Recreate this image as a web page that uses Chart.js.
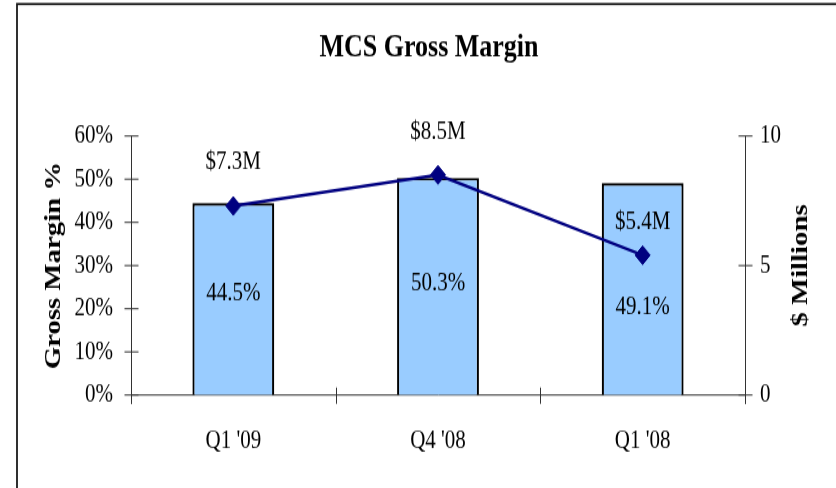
<!DOCTYPE html>
<html>
<head>
<meta charset="utf-8">
<script src="https://cdn.jsdelivr.net/npm/chart.js@4.4.0/dist/chart.umd.min.js"></script>
<style>
  html, body { margin: 0; padding: 0; background: #fff; overflow: hidden; }
</style>
</head>
<body>
<!-- the original slide is stretched vertically, so draw at 390 high and stretch to 488 -->
<canvas id="marginChart" width="836" height="390" style="display:block;width:836px;height:488px"></canvas>
<script>
const quarters = ["Q1 '09", "Q4 '08", "Q1 '08"];
const grossMarginPct = [44.5, 50.3, 49.1];
const revenueMillions = [7.3, 8.5, 5.4];
const pctTicks = [0, 10, 20, 30, 40, 50, 60];
const millionTicks = [0, 5, 10];

const serif = '"Liberation Serif", "Times New Roman", serif';

function line(ctx, x1, y1, x2, y2) {
    ctx.beginPath();
    ctx.moveTo(x1, y1);
    ctx.lineTo(x2, y2);
    ctx.stroke();
}

// border, title, axes with crossing ticks, axis titles and value labels
const decor = {
    id: 'decor',
    beforeDraw(chart) {
        const ctx = chart.ctx;
        ctx.save();
        ctx.strokeStyle = '#1a1a1a';
        ctx.lineWidth = 1.8;
        ctx.strokeRect(17, 3.2, 900, 500);
        ctx.fillStyle = '#000';
        ctx.font = 'bold 26px ' + serif;
        ctx.textAlign = 'center';
        ctx.textBaseline = 'middle';
        ctx.fillText('MCS Gross Margin', 429, 38);
        ctx.restore();
    },
    beforeDatasetsDraw(chart) {
        const { ctx, chartArea: a, scales: { x, y, y1 } } = chart;
        ctx.save();
        ctx.strokeStyle = '#333';
        ctx.lineWidth = 1;
        const l = Math.round(a.left) + 0.5;
        const r = Math.round(a.right) + 0.5;
        line(ctx, l, y.getPixelForValue(60), l, a.bottom + 7);
        pctTicks.forEach(v => {
            const py = y.getPixelForValue(v);
            line(ctx, l - 7, py, l + 7, py);
        });
        line(ctx, r, y1.getPixelForValue(10), r, a.bottom + 7);
        millionTicks.forEach(v => {
            const py = y1.getPixelForValue(v);
            line(ctx, r - 7, py, r + 7, py);
        });
        line(ctx, l, a.bottom, r, a.bottom);
        for (let i = 0; i <= quarters.length; i++) {
            const px = Math.round(x.getPixelForValue(i - 0.5)) + 0.5;
            line(ctx, px, a.bottom - 6, px, a.bottom + 7);
        }

        // axis titles, both read bottom to top
        ctx.fillStyle = '#000';
        ctx.font = 'bold 23px ' + serif;
        ctx.textAlign = 'center';
        ctx.textBaseline = 'middle';
        const mid = (a.top + a.bottom) / 2;
        [['Gross Margin %', 54], ['$ Millions', 801]].forEach(([t, tx]) => {
            ctx.save();
            ctx.translate(tx, mid);
            ctx.rotate(-Math.PI / 2);
            ctx.fillText(t, 0, 0);
            ctx.restore();
        });
        ctx.restore();
    },
    afterDraw(chart, args, opts) {
        const { ctx, scales: { y } } = chart;
        const bars = chart.getDatasetMeta(1).data;
        const pts = chart.getDatasetMeta(0).data;
        ctx.save();
        ctx.fillStyle = '#000';
        ctx.font = '21px ' + serif;
        ctx.textAlign = 'center';
        ctx.textBaseline = 'middle';
        bars.forEach((b, i) => {
            ctx.fillText(grossMarginPct[i].toFixed(1) + '%', b.x, y.getPixelForValue(opts.pctLabelAt[i]));
        });
        pts.forEach((p, i) => {
            ctx.fillText('$' + revenueMillions[i].toFixed(1) + 'M', p.x, p.y - opts.dollarLift[i]);
        });
        ctx.restore();
    }
};

const ctx = document.getElementById('marginChart').getContext('2d');
new Chart(ctx, {
    data: {
        labels: quarters,
        datasets: [
            {
                type: 'line',
                label: '$ Millions',
                data: revenueMillions,
                yAxisID: 'y1',
                borderColor: '#000080',
                backgroundColor: '#000080',
                borderWidth: 2.5,
                pointStyle: 'rectRot',
                pointRadius: 7.5,
                pointBorderWidth: 1,
                tension: 0,
                order: 0
            },
            {
                type: 'bar',
                label: 'Gross Margin %',
                data: grossMarginPct,
                yAxisID: 'y',
                backgroundColor: '#99CCFF',
                borderColor: '#000',
                borderWidth: 2.2,
                categoryPercentage: 1,
                barPercentage: 0.4,
                order: 1
            }
        ]
    },
    options: {
        responsive: false,
        devicePixelRatio: 1,
        animation: false,
        layout: { padding: { top: 108.7, left: 0, right: 0, bottom: 0 } },
        plugins: {
            legend: { display: false },
            title: { display: false },
            tooltip: { enabled: false },
            decor: {
                pctLabelAt: [23.4, 25.9, 20.4],
                dollarLift: [35, 34, 26]
            }
        },
        scales: {
            x: {
                offset: true,
                grid: { display: false },
                border: { display: false },
                ticks: { color: '#000', font: { family: serif, size: 21 }, padding: 16 },
                afterFit(s) { s.height = 74.3; }
            },
            y: {
                position: 'left',
                min: 0,
                max: 60,
                grid: { display: false },
                border: { display: false },
                ticks: {
                    stepSize: 10,
                    color: '#000',
                    font: { family: serif, size: 21 },
                    padding: 10,
                    callback: v => v + '%'
                },
                afterFit(s) { s.width = 131; }
            },
            y1: {
                position: 'right',
                min: 0,
                max: 10,
                grid: { display: false },
                border: { display: false },
                ticks: {
                    stepSize: 5,
                    color: '#000',
                    font: { family: serif, size: 21 },
                    padding: 7
                },
                afterFit(s) { s.width = 91; }
            }
        }
    },
    plugins: [decor]
});
</script>
</body>
</html>
